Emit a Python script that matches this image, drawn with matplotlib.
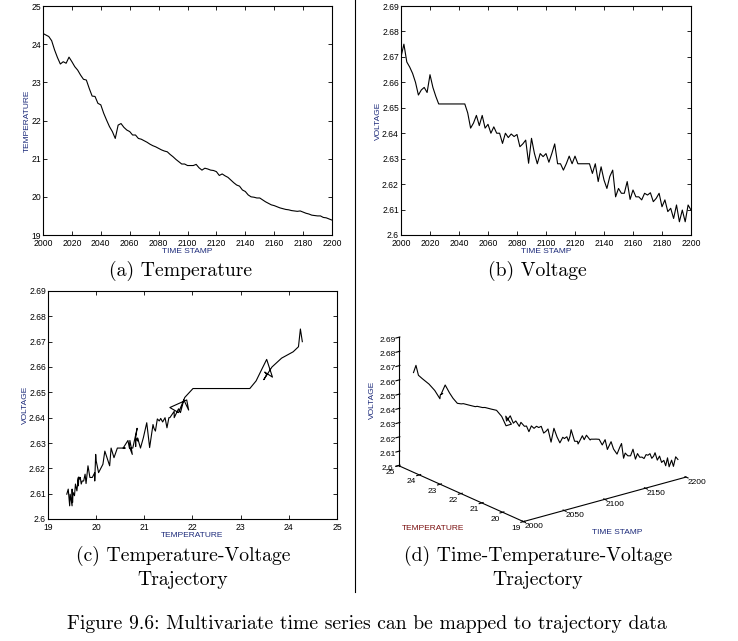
import matplotlib
matplotlib.use("Agg")
import matplotlib.pyplot as plt
from matplotlib.lines import Line2D
from matplotlib.ticker import FormatStrFormatter
from matplotlib.transforms import offset_copy

plt.rcParams['font.family'] = ['Liberation Sans', 'DejaVu Sans']

# every 2nd time stamp
time_stamp = list(range(2000, 2201, 2))
temperature = [
    24.28, 24.24, 24.20, 24.09, 23.85, 23.65, 23.48, 23.54, 23.50, 23.66,
    23.54, 23.41, 23.32, 23.19, 23.08, 23.06, 22.84, 22.64, 22.63, 22.45,
    22.41, 22.19, 22.01, 21.84, 21.71, 21.53, 21.88, 21.92, 21.82, 21.75,
    21.71, 21.62, 21.62, 21.53, 21.51, 21.47, 21.43, 21.38, 21.34, 21.31,
    21.27, 21.23, 21.20, 21.18, 21.11, 21.05, 20.98, 20.92, 20.86, 20.86,
    20.82, 20.82, 20.82, 20.85, 20.76, 20.70, 20.75, 20.73, 20.70, 20.69,
    20.66, 20.56, 20.60, 20.55, 20.51, 20.44, 20.37, 20.31, 20.28, 20.18,
    20.14, 20.05, 20.00, 19.99, 19.97, 19.97, 19.92, 19.87, 19.83, 19.79,
    19.77, 19.74, 19.71, 19.69, 19.67, 19.66, 19.64, 19.63, 19.62, 19.63,
    19.60, 19.57, 19.55, 19.52, 19.51, 19.50, 19.50, 19.46, 19.45, 19.42,
    19.39]
voltage = [
    2.670, 2.675, 2.668, 2.666, 2.6635, 2.660, 2.655, 2.657, 2.658, 2.656,
    2.663, 2.658, 2.6545, 2.6515, 2.6515, 2.6515, 2.6515, 2.6515, 2.6515, 2.6515,
    2.6515, 2.6515, 2.6515, 2.648, 2.642, 2.644, 2.647, 2.643, 2.647, 2.642,
    2.6435, 2.640, 2.6425, 2.640, 2.640, 2.636, 2.640, 2.6383, 2.6397, 2.6387,
    2.6395, 2.6347, 2.6358, 2.6373, 2.6282, 2.638, 2.6321, 2.628, 2.632, 2.6308,
    2.632, 2.6286, 2.632, 2.6358, 2.628, 2.628, 2.6255, 2.628, 2.631, 2.628,
    2.631, 2.628, 2.628, 2.628, 2.628, 2.628, 2.6242, 2.628, 2.621, 2.6268,
    2.6216, 2.6183, 2.623, 2.6255, 2.615, 2.6183, 2.6164, 2.6164, 2.621, 2.614,
    2.6177, 2.615, 2.615, 2.6138, 2.6164, 2.6157, 2.6166, 2.6131, 2.6144, 2.6164,
    2.6111, 2.6138, 2.6092, 2.6105, 2.6065, 2.6118, 2.6052, 2.6098, 2.6052, 2.6118,
    2.6098]

time_ticks = [2000, 2020, 2040, 2060, 2080, 2100, 2120, 2140, 2160, 2180, 2200]
temp_ticks = [19, 20, 21, 22, 23, 24, 25]
volt_ticks = [2.6, 2.61, 2.62, 2.63, 2.64, 2.65, 2.66, 2.67, 2.68, 2.69]
time_ticks_3d = [2000, 2050, 2100, 2150, 2200]

W, H = 738, 641
navy = '#1c2a7a'
serif = 'cmr10'

fig = plt.figure(figsize=(W / 100, H / 100), dpi=100)


def rect(left, top, right, bottom):
    return [left / W, 1 - bottom / H, (right - left) / W, (bottom - top) / H]


def style(ax):
    ax.tick_params(direction='in', top=True, right=True, length=3, width=0.6,
                   labelsize=6.2, pad=1.5)
    ax.tick_params(axis='x', pad=3)
    for s in ax.spines.values():
        s.set_linewidth(0.8)


# (a) temperature
ax1 = fig.add_axes(rect(43, 6, 332, 235))
ax1.plot(time_stamp, temperature, color='k', lw=0.8)
ax1.set_xlim(2000, 2200)
ax1.set_ylim(19, 25)
ax1.set_xticks(time_ticks)
ax1.set_yticks(temp_ticks)
style(ax1)
ax1.set_xlabel('TIME STAMP', fontsize=6, color=navy, labelpad=0)
ax1.set_ylabel('TEMPERATURE', fontsize=6, color=navy, labelpad=0.5)

# (b) voltage
ax2 = fig.add_axes(rect(401, 6, 691, 235))
ax2.plot(time_stamp, voltage, color='k', lw=0.8)
ax2.set_xlim(2000, 2200)
ax2.set_ylim(2.6, 2.69)
ax2.set_xticks(time_ticks)
ax2.set_yticks(volt_ticks)
ax2.yaxis.set_major_formatter(FormatStrFormatter('%g'))
style(ax2)
ax2.set_xlabel('TIME STAMP', fontsize=6, color=navy, labelpad=0)
ax2.set_ylabel('VOLTAGE', fontsize=6, color=navy, labelpad=0)

# (c) temperature-voltage
ax3 = fig.add_axes(rect(48, 291, 337, 519))
ax3.plot(temperature, voltage, color='k', lw=0.8)
ax3.set_xlim(19, 25)
ax3.set_ylim(2.6, 2.69)
ax3.set_xticks(temp_ticks)
ax3.set_yticks(volt_ticks)
ax3.yaxis.set_major_formatter(FormatStrFormatter('%g'))
style(ax3)
ax3.set_xlabel('TEMPERATURE', fontsize=6, color=navy, labelpad=0)
ax3.set_ylabel('VOLTAGE', fontsize=6, color=navy, labelpad=0)

# (d) time-temperature-voltage
ax4 = fig.add_axes(rect(351, 271, 726, 551), projection='3d', proj_type='ortho')
ax4.view_init(elev=20.5, azim=-128)
ax4.set_box_aspect((208, 204.5, 138), zoom=1.11)
ax4.plot(time_stamp, temperature, voltage, color='k', lw=0.8)
ax4.set_xlim(2000, 2200)
ax4.set_ylim(19, 25)
ax4.set_zlim(2.6, 2.69)
ax4.set_xticks(time_ticks_3d)
ax4.set_yticks(temp_ticks)
ax4.set_zticks(volt_ticks)
ax4.zaxis.set_major_formatter(FormatStrFormatter('%g'))
ax4.grid(False)
for axis in (ax4.xaxis, ax4.yaxis, ax4.zaxis):
    axis.set_pane_color((1, 1, 1, 0))
    axis.pane.set_edgecolor((1, 1, 1, 0))
    axis.line.set_linewidth(0.8)
ax4.tick_params(labelsize=6)
ax4.xaxis.set_tick_params(pad=-7)
ax4.yaxis.set_tick_params(pad=-6)
ax4.zaxis.set_tick_params(pad=-4)
for t in ax4.xaxis.get_major_ticks():
    t.label1.set_horizontalalignment('left')
for t in ax4.yaxis.get_major_ticks():
    t.label1.set_horizontalalignment('right')
    t.label1.set_transform(offset_copy(t.label1.get_transform(), fig=fig,
                                       x=-5, y=0, units='dots'))
fig.text(372 / W, 1 - 400 / H, 'VOLTAGE', fontsize=6, color=navy,
         rotation=90, ha='center', va='center')
fig.text(433 / W, 1 - 529 / H, 'TEMPERATURE', fontsize=6, color='#7a1010',
         ha='center', va='center')
fig.text(617 / W, 1 - 532 / H, 'TIME STAMP', fontsize=6, color=navy,
         ha='center', va='center')

# captions
cap = dict(fontsize=14.2, family=serif, ha='center', va='center')
fig.text(181 / W, 1 - 271 / H, '(a) Temperature', **cap)
fig.text(537 / W, 1 - 271 / H, '(b) Voltage', **cap)
fig.text(183 / W, 1 - 556 / H, '(c) Temperature-Voltage', **cap)
fig.text(183 / W, 1 - 580 / H, 'Trajectory', **cap)
fig.text(538 / W, 1 - 556 / H, '(d) Time-Temperature-Voltage', **cap)
fig.text(538 / W, 1 - 580 / H, 'Trajectory', **cap)
fig.text(367 / W, 1 - 624 / H,
         'Figure 9.6: Multivariate time series can be mapped to trajectory data', **cap)

# divider between the columns
fig.add_artist(Line2D([355 / W, 355 / W], [1, 1 - 592 / H],
                      transform=fig.transFigure, color='k', lw=0.8))

fig.savefig('out.png', dpi=100)
